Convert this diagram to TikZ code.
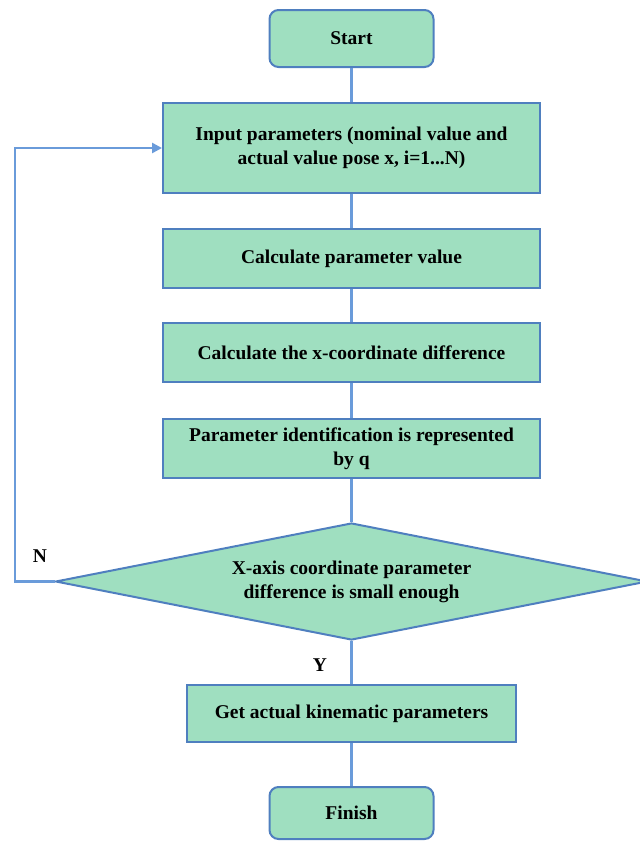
\documentclass[tikz,border=0pt]{standalone}
\usepackage{fontspec}
\setmainfont{Liberation Serif}
\usetikzlibrary{shapes.geometric,arrows.meta}
\definecolor{boxfill}{HTML}{9FDFC0}
\definecolor{boxline}{HTML}{4F7FBF}
\definecolor{conline}{HTML}{6A9BDA}
\begin{document}
\begin{tikzpicture}[x=1pt,y=-1pt,
  every node/.style={font=\fontsize{19.5}{24}\selectfont\bfseries, text=black},
  procbox/.style={draw=boxline, line width=2pt, fill=boxfill, rectangle, minimum width=377pt, align=center, inner sep=0pt},
  termbox/.style={draw=boxline, line width=2pt, fill=boxfill, rectangle, rounded corners=9pt, minimum width=164pt, inner sep=0pt},
  decbox/.style={draw=boxline, line width=2pt, fill=boxfill, diamond, aspect=5, minimum width=592pt, minimum height=117pt, align=center, inner sep=0pt},
  conn/.style={draw=conline, line width=2.6pt},
  lbl/.style={inner sep=0pt}
]
\useasboundingbox (0,0) rectangle (640,841);
\node[termbox, minimum height=57pt] (start) at (351.5,38.5) {Start};
\node[procbox, minimum height=90pt] (in) at (351.5,148) {Input parameters (nominal value and\\actual value pose x, i=1...N)};
\node[procbox, minimum height=59pt] (calc) at (351.5,258.5) {Calculate parameter value};
\node[procbox, minimum height=59pt] (diff) at (351.5,352.5) {Calculate the x-coordinate difference};
\node[procbox, minimum height=59pt] (ident) at (351.5,448.5) {Parameter identification is represented\\by q};
\node[decbox] (dec) at (351.5,581.5) {X-axis coordinate parameter\\difference is small enough};
\node[procbox, minimum width=329pt, minimum height=57pt] (get) at (351.5,713.5) {Get actual kinematic parameters};
\node[termbox, minimum height=52pt] (fin) at (351.5,813) {Finish};
\node[lbl] (nlab) at (40,556) {N};
\node[lbl] (ylab) at (320,665) {Y};
\coordinate (lb) at (15,581.5);
\coordinate (lt) at (15,148);
\begin{scope}[on background layer/.try]
\end{scope}
\draw[conn] (start) -- (in);
\draw[conn] (in) -- (calc);
\draw[conn] (calc) -- (diff);
\draw[conn] (diff) -- (ident);
\draw[conn] (ident) -- (dec);
\draw[conn] (dec) -- (get);
\draw[conn] (get) -- (fin);
\draw[conn, -{Triangle[length=10pt,width=10pt]}] (dec.west) -- (lb) -- (lt) -- (in.west);
\end{tikzpicture}
\end{document}
